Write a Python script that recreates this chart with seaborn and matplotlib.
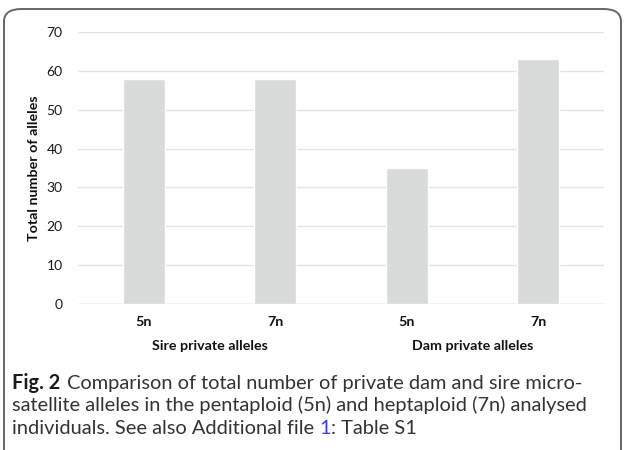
import matplotlib
matplotlib.use("Agg")
import matplotlib.pyplot as plt
import seaborn as sns
import pandas as pd
from matplotlib.patches import FancyBboxPatch

# ---- data ----
groups = ["Sire private alleles", "Sire private alleles", "Dam private alleles", "Dam private alleles"]
ploidy = ["5n", "7n", "5n", "7n"]
values = [58, 58, 35, 63]
group_labels = ["Sire private alleles", "Dam private alleles"]
yticks = [0, 10, 20, 30, 40, 50, 60, 70]
ylabel = "Total number of alleles"

sns.set_theme(style="white")
plt.rcParams["font.family"] = ["Lato", "DejaVu Sans"]

W, H = 624, 450
fig = plt.figure(figsize=(W / 100, H / 100), dpi=100)

# rounded frame (top-left visible, bottom runs off the image)
frame = FancyBboxPatch((4 / W, -30 / H), 617 / W, (H - 9 + 30) / H,
                       boxstyle="round,pad=0,rounding_size=0.028",
                       transform=fig.transFigure, fill=False,
                       edgecolor="#666666", linewidth=1.4, clip_on=False)
fig.patches.append(frame)

ax = fig.add_axes([78 / W, 1 - 304 / H, 526 / W, 272 / H])
df = pd.DataFrame({"key": [f"{g}|{p}" for g, p in zip(groups, ploidy)], "value": values})
sns.barplot(data=df, x="key", y="value", color="#D9DADA", width=0.32,
            saturation=1, ax=ax, zorder=3)
ax.set_ylim(0, 70)
ax.set_yticks(yticks)
ax.set_yticklabels([str(t) for t in yticks], fontsize=10, color="#1a1a1a")
ax.set_xticks(range(len(ploidy)))
ax.set_xticklabels(ploidy, fontsize=10.3, fontweight="bold", color="#111111")
ax.tick_params(axis="y", length=0, pad=11)
ax.tick_params(axis="x", length=0, pad=9)
ax.set_xlabel("")
ax.set_ylabel(ylabel, fontsize=10.3, fontweight="bold", color="#111111", labelpad=5)
ax.yaxis.grid(True, color="#E4E4E4", linewidth=1.0, zorder=0)
ax.set_axisbelow(True)
for s in ax.spines.values():
    s.set_visible(False)
ax.axhline(0, color="#D9D9D9", linewidth=1.0, zorder=4)
ax.set_facecolor("none")

# group labels
for i, g in enumerate(group_labels):
    xc = (2 * i + 0.5)
    ax.text(xc, -(346 - 304) / 272, g, transform=ax.get_xaxis_transform(), ha="center", va="center",
            fontsize=10.3, fontweight="bold", color="#111111")

# caption
fig.canvas.draw()
r = fig.canvas.get_renderer()
cap_font = ["Lato", "DejaVu Sans"]
line1b = "Comparison of total number of private dam and sire micro-"
line2 = "satellite alleles in the pentaploid (5n) and heptaploid (7n) analysed"
line3a = "individuals. See also Additional file "
line3b = "1"
line3c = ": Table S1"

# fit caption size so that line 2 spans the same width as in the figure
probe = fig.text(0, 0, line2, fontsize=10, family=cap_font)
wprobe = probe.get_window_extent(renderer=r).width
probe.remove()
fs = 10 * 578 / wprobe
x0 = 12 / W

def put(x, y, s, color="#333333", weight="normal"):
    t = fig.text(x, y, s, fontsize=fs, family=cap_font, va="baseline", ha="left",
                 color=color, fontweight=weight)
    bb = t.get_window_extent(renderer=r)
    return x + bb.width / W

y1 = 1 - 389 / H
y2 = 1 - 411.5 / H
y3 = 1 - 434 / H
x = put(x0, y1, "Fig. 2", color="#1a1a1a", weight="bold")
put(x + 7 / W, y1, line1b)
put(x0, y2, line2)
x = put(x0, y3, line3a)
x = put(x, y3, line3b, color="#3b3bef")
put(x, y3, line3c)

fig.savefig("out.png", dpi=100)
